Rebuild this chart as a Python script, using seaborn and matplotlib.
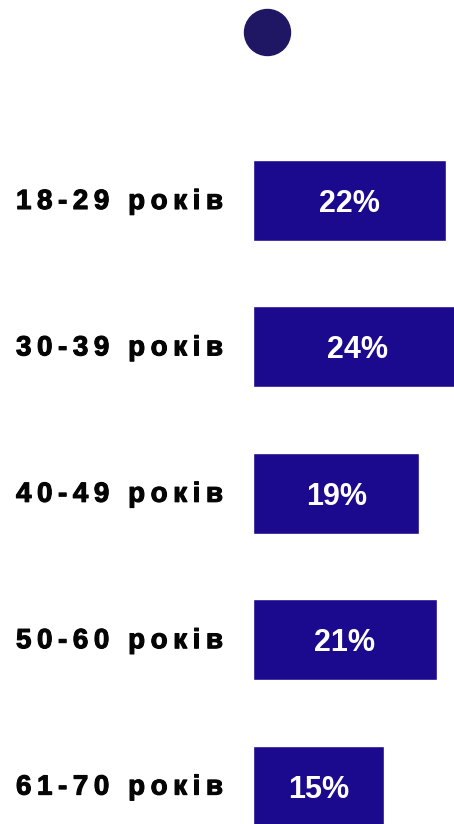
import matplotlib
matplotlib.use("Agg")
import matplotlib.pyplot as plt
import matplotlib.patheffects as pe
import seaborn as sns
import pandas as pd

categories = ["18-29 років", "30-39 років", "40-49 років", "50-60 років", "61-70 років"]
values = [22, 24, 19, 21, 15]
value_labels = ["22%", "24%", "19%", "21%", "15%"]

sns.set_style("white")
plt.rcParams['font.family'] = ['Liberation Sans', 'DejaVu Sans']

df = pd.DataFrame({"cat": categories, "val": values})

fig = plt.figure(figsize=(4.54, 8.24), dpi=100)
ax = fig.add_axes([0, 0, 1, 1])
sns.barplot(data=df, y="cat", x="val", orient="h", color="#1b0a8e",
            saturation=1, width=0.553, ax=ax)

px = 8.75  # pixels per percent
ypx = 146.4  # pixels per category
ax.set_xlim(-253 / px, (454 - 253) / px)
ax.set_ylim((824 - 200.5) / ypx, -200.5 / ypx)
ax.set_axis_off()

def tracked(s):
    # wide letter spacing as in the reference
    return "\u2009".join(s)

for i, (cat, v, lab) in enumerate(zip(categories, values, value_labels)):
    ax.text(v / 2, i + 11.5 / ypx, lab, color="white", fontsize=22,
            fontweight="bold", ha="center", va="baseline")
    ax.text((16 - 253) / px, i + 8.5 / ypx, tracked(cat), color="#050505",
            fontsize=20, fontweight="bold", ha="left", va="baseline",
            path_effects=[pe.withStroke(linewidth=0.8, foreground="#050505")])

ax.scatter([(267 - 253) / px], [(32 - 200.5) / ypx], s=1097, color="#1f1763",
           clip_on=False, zorder=5)

fig.savefig("out.png", dpi=100)
